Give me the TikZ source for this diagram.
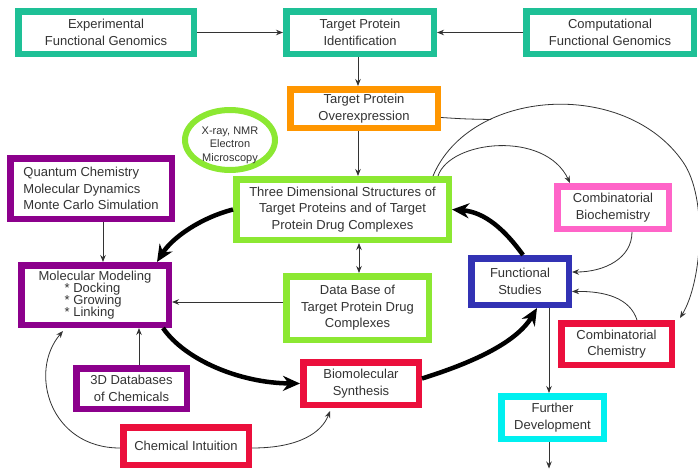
\documentclass[tikz,border=0pt]{standalone}
\usepackage{fontspec}
\setmainfont{Liberation Sans}
\usetikzlibrary{arrows.meta,shapes.geometric,calc}
\definecolor{cteal}{RGB}{30,192,150}
\definecolor{corange}{RGB}{255,150,0}
\definecolor{clime}{RGB}{140,232,50}
\definecolor{cpurple}{RGB}{140,0,140}
\definecolor{cpink}{RGB}{255,100,200}
\definecolor{cblue}{RGB}{50,50,180}
\definecolor{cred}{RGB}{235,15,60}
\definecolor{ccyan}{RGB}{0,240,240}
\begin{document}
\begin{tikzpicture}[x=1pt,y=-1pt,
  box/.style={draw, line width=6.5pt, fill=white, inner sep=0pt, align=center,
    font=\fontsize{13}{16.5}\selectfont, text=black!80},
  arr/.style={line width=0.8pt, draw=black!80, -{Stealth[length=7pt,width=5.5pt]}},
  plain/.style={line width=0.8pt, draw=black!80},
  dbl/.style={line width=0.8pt, draw=black!80, {Stealth[length=7pt,width=5.5pt]}-{Stealth[length=7pt,width=5.5pt]}},
  bigarrow/.style={line width=4.5pt, draw=black, -{Stealth[length=17pt,width=15pt]}}]
\useasboundingbox (0,0) rectangle (698,469);

% boxes
\node[box, draw=cteal, minimum width=175.5pt, minimum height=42.5pt] (efg) at (106,32.5) {Experimental\\Functional Genomics};
\node[box, draw=cteal, minimum width=147.5pt, minimum height=42.5pt] (tpi) at (360,32.5) {Target Protein\\Identification};
\node[box, draw=cteal, minimum width=167.5pt, minimum height=42.5pt] (cfg) at (610,32.5) {Computational\\Functional Genomics};
\node[box, draw=corange, minimum width=147.5pt, minimum height=38.5pt] (tpo) at (364,108.5) {Target Protein\\Overexpression};
\node[ellipse, draw=clime, fill=white, line width=6pt, minimum width=90pt, minimum height=60pt, inner sep=0pt,
  label={[name=xraytext, yshift=-5pt, align=center, font=\fontsize{11}{13.5}\selectfont, text=black!80]center:X-ray, NMR\\Electron\\Microscopy}] (xray) at (230,140) {};
\node[box, draw=cpurple, align=left, minimum width=161.5pt, minimum height=60.5pt] (qc) at (91,188.5) {Quantum Chemistry\\Molecular Dynamics\\Monte Carlo Simulation};
\node[box, draw=clime, minimum width=212.5pt, minimum height=60.5pt] (tds) at (342.5,209.5) {Three Dimensional Structures of\\Target Proteins and of Target\\Protein Drug Complexes};
\node[box, draw=cpink, minimum width=111.5pt, minimum height=42.5pt] (cbio) at (613,207.5) {Combinatorial\\Biochemistry};
\node[box, draw=cpurple, align=left, minimum width=147.5pt, minimum height=59.5pt] (mm) at (95,295) {Molecular Modeling\\[-4pt]\hspace*{26pt}* Docking\\[-4.5pt]\hspace*{26pt}* Growing\\[-4.5pt]\hspace*{26pt}* Linking};
\node[box, draw=clime, minimum width=142.5pt, minimum height=63.5pt] (db) at (357.5,308) {Data Base of\\Target Protein Drug\\Complexes};
\node[box, draw=cblue, minimum width=97.5pt, minimum height=46.5pt] (fs) at (520,281.5) {Functional\\Studies};
\node[box, draw=cred, minimum width=110.5pt, minimum height=41.5pt] (cchem) at (616.5,344) {Combinatorial\\Chemistry};
\node[box, draw=cpurple, minimum width=110.5pt, minimum height=40.5pt] (d3) at (131.5,388.5) {3D Databases\\of Chemicals};
\node[box, draw=cred, minimum width=115.5pt, minimum height=42.5pt] (bio) at (361,383.5) {Biomolecular\\Synthesis};
\node[box, draw=cred, minimum width=125.5pt, minimum height=37.5pt] (ci) at (186,446) {Chemical Intuition};
\node[box, draw=ccyan, minimum width=102.5pt, minimum height=42.5pt] (fd) at (552.5,417.5) {Further\\Development};

% helper coordinates
\coordinate (cx) at (358,0);
\coordinate (cx2) at (359,0);
\coordinate (dbw) at ([yshift=6pt]db.west);
\coordinate (qcx) at ([xshift=12pt]qc.south);
\coordinate (d3x) at ([xshift=7.5pt]d3.north);
\coordinate (fdtop) at ([xshift=-3.5pt]fd.north);
\coordinate (out) at (549,468.5);
\coordinate (j) at (491,119.5);

% straight thin connectors
\draw[arr] (efg) -- (tpi);
\draw[arr] (cfg) -- (tpi);
\draw[arr] (cx |- tpi.south) -- (cx |- tpo.north);
\draw[arr] (cx |- tpo.south) -- (cx |- tds.north);
\draw[dbl] (cx2 |- tds.south) -- (cx2 |- db.north);
\draw[arr] (dbw) -- (dbw -| mm.east);
\draw[arr] (qcx) -- (qcx |- mm.north);
\draw[arr] (d3x) -- (d3x |- mm.south);
\draw[arr] (fdtop |- fs.south) -- (fdtop);
\draw[arr] (fdtop |- fd.south) -- (out);

% curved thin connectors
\draw[arr] ([yshift=-2pt]ci.west) .. controls (50,448) and (28,372) .. ([xshift=45pt,yshift=-3pt]mm.south west);
\draw[arr] ([yshift=-2pt]ci.east) .. controls (300,448) and (322,432) .. ([xshift=30pt,yshift=-3pt]bio.south west);
\draw[plain] ([yshift=-9pt]tpo.east) .. controls (465,119) .. (j);
\draw[arr] ([xshift=-19pt]tds.north east) .. controls (470,88) and (625,78) .. (683,162)
  .. controls (708,198) and (702,282) .. ([xshift=5pt,yshift=2pt]cchem.north east);
\draw[arr] ([xshift=-14pt]tds.north east) .. controls (450,140) and (545,130) .. ([xshift=16pt]cbio.north west);
\draw[arr] ([xshift=19pt]cbio.south) .. controls (632,258) and (605,272) .. ([yshift=9.5pt]fs.east);
\draw[arr] ([xshift=20.5pt]cchem.north) .. controls (630,298) and (605,291) .. ([yshift=-10pt]fs.east);

% thick cycle
\draw[bigarrow] (tds.west) .. controls (200,218) and (172,238) .. ([xshift=-15pt]mm.north east);
\draw[bigarrow] ([xshift=-9pt]mm.south east) .. controls (185,360) and (240,383) .. (bio.west);
\draw[bigarrow] ([yshift=5pt]bio.east) .. controls (465,365) and (515,345) .. ([xshift=17pt]fs.south);
\draw[bigarrow] ([xshift=3pt]fs.north) .. controls (505,230) and (485,212) .. (tds.east);
\end{tikzpicture}
\end{document}
